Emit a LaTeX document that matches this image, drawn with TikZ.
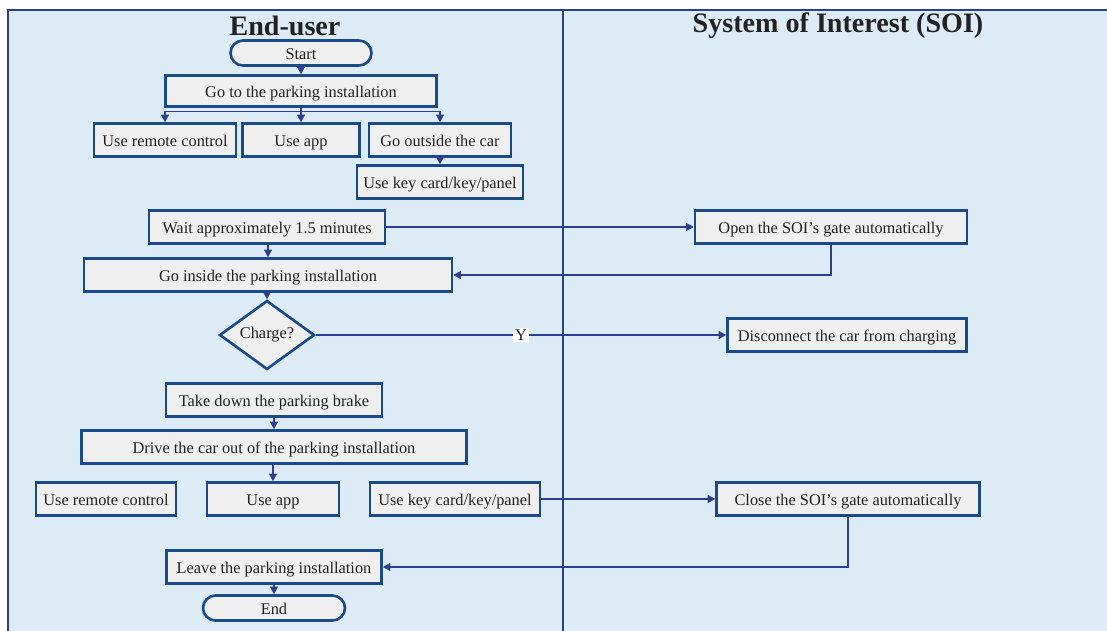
\documentclass[tikz,border=0pt]{standalone}
\usepackage{fontspec}
\setmainfont{Liberation Serif}
\usepackage{xcolor}
\usepackage{tikz}
\usetikzlibrary{arrows.meta, positioning, shapes.geometric, calc}

\definecolor{laneblue}{HTML}{DDEBF7}
\definecolor{boxgray}{HTML}{EFEFEF}
\definecolor{boxedge}{HTML}{1A4A8A}
\definecolor{flowblue}{HTML}{2E3F8F}
\definecolor{textgray}{HTML}{222222}

\begin{document}
\begin{tikzpicture}[
    x=0.02cm, y=-0.02cm,
    task/.style={
        rectangle, draw=boxedge, fill=boxgray, line width=1.5pt,
        minimum height=0.66cm, inner sep=1pt, align=center,
        text height=1.8ex, text depth=0.3ex,
        font=\fontsize{9.3}{11}\selectfont, text=textgray
    },
    terminal/.style={
        task, rounded corners=0.25cm, minimum height=0.5cm
    },
    decision/.style={
        diamond, draw=boxedge, fill=boxgray, line width=1.5pt,
        minimum width=1.9cm, minimum height=1.08cm, inner sep=0pt,
        font=\fontsize{9.3}{11}\selectfont, text=textgray
    },
    lanetitle/.style={font=\fontsize{16}{18}\selectfont\bfseries, text=textgray},
    arr/.style={-{Triangle[length=1.5mm, width=1.6mm]}, line width=0.6pt, flowblue},
    lane/.style={draw=flowblue, line width=0.8pt}
]
\useasboundingbox (0,0) rectangle (1107,630);
\clip (0,0) rectangle (1107,630);

% Swimlanes
\fill[laneblue] (8,10) rectangle (1120,640);
\draw[lane] (8,640) -- (8,10) -- (1120,10);
\draw[lane] (563,10) -- (563,640);
\node[lanetitle] (titleuser) at (285,26) {End-user};
\node[lanetitle] (titlesoi) at (838,26) {System of Interest (SOI)};

% End-user lane, arrival
\node[terminal, minimum width=2.82cm] (start) at (301,53) {Start};
\node[task, minimum width=5.42cm, minimum height=0.62cm] (goto) at (301,91) {Go to the parking installation};
\node[task, minimum width=2.84cm] (remote1) at (165,140) {Use remote control};
\node[task, minimum width=2.34cm] (app1) at (301,140) {Use app};
\node[task, minimum width=2.84cm] (outside) at (440,140) {Go outside the car};
\node[task, minimum width=3.32cm] (keycard1) at (440,182) {Use key card/key/panel};
\node[task, minimum width=4.72cm] (wait) at (267,227) {Wait approximately 1.5 minutes};
\node[task, minimum width=7.36cm] (inside) at (268,275) {Go inside the parking installation};
\node[decision] (charge) at (267,335) {Charge?};

% End-user lane, departure
\node[task, minimum width=4.32cm] (brake) at (274,400) {Take down the parking brake};
\node[task, minimum width=7.70cm] (drive) at (274,447) {Drive the car out of the parking installation};
\node[task, minimum width=2.80cm] (remote2) at (106,499) {Use remote control};
\node[task, minimum width=2.64cm] (app2) at (273,499) {Use app};
\node[task, minimum width=3.40cm] (keycard2) at (455,499) {Use key card/key/panel};
\node[task, minimum width=4.30cm] (leave) at (274,567) {Leave the parking installation};
\node[terminal, minimum width=2.84cm] (end) at (274,608) {End};

% SOI lane
\node[task, minimum width=5.44cm] (opengate) at (831,227) {Open the SOI's gate automatically};
\node[task, minimum width=4.78cm] (disconnect) at (847,335) {Disconnect the car from charging};
\node[task, minimum width=5.26cm] (closegate) at (848,499) {Close the SOI's gate automatically};

% Flow
\draw[arr] (start) -- (goto);
\draw[arr] (goto.south) -- ++(0,4) -| (remote1.north);
\draw[arr] (goto) -- (app1);
\draw[arr] (goto.south) -- ++(0,4) -| (outside.north);
\draw[arr] (outside) -- (keycard1);
\draw[arr] (wait.south -| inside.north) -- (inside.north);
\draw[arr] (wait) -- (opengate);
\draw[arr] (opengate.south) |- (inside.east);
\draw[arr] (inside.south -| charge.north) -- (charge.north);
\draw[arr] (charge) -- node[fill=white, inner sep=1pt, text=textgray,
    font=\fontsize{9.3}{11}\selectfont] {Y} (disconnect);
\draw[arr] (brake) -- (drive);
\draw[arr] (drive.south -| app2.north) -- (app2.north);
\draw[arr] (keycard2) -- (closegate);
\draw[arr] (closegate.south) |- (leave.east);
\draw[arr] (leave) -- (end);

\end{tikzpicture}
\end{document}
